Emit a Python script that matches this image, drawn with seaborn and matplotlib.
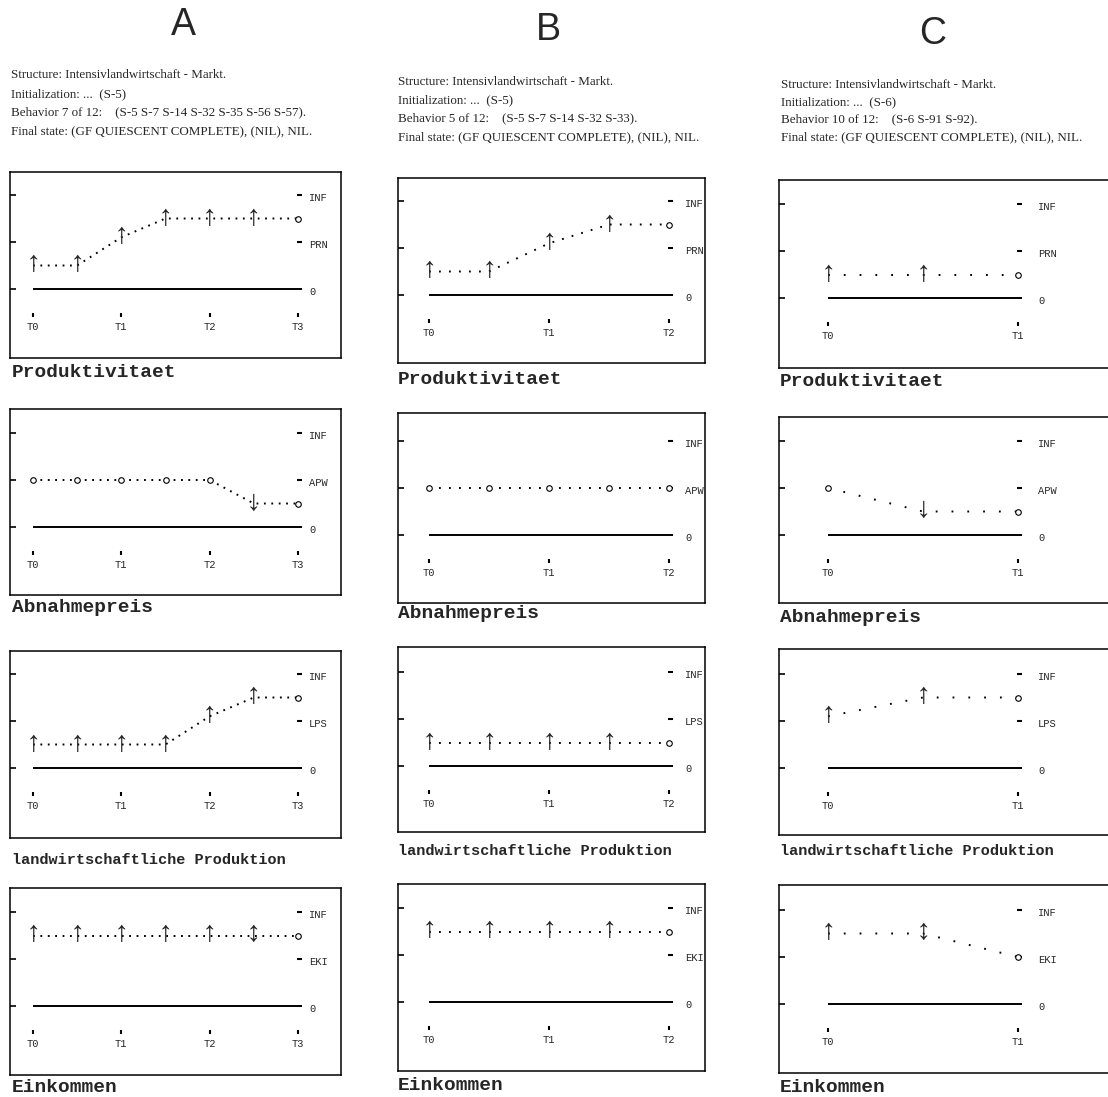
import matplotlib
matplotlib.use("Agg")
import matplotlib.pyplot as plt
import seaborn as sns

sns.set_style("white")
plt.rcParams["lines.scale_dashes"] = False

W, H = 1108, 1097
fig = plt.figure(figsize=(W / 100, H / 100), dpi=100)

# ---------------- data ----------------
columns = ["A", "B", "C"]
variables = ["Produktivitaet", "Abnahmepreis", "landwirtschaftliche Produktion", "Einkommen"]
landmarks = ["PRN", "APW", "LPS", "EKI"]

times_A = ["T0", "T1", "T2", "T3"]
times_B = ["T0", "T1", "T2"]
times_C = ["T0", "T1"]

header_A = ["Structure: Intensivlandwirtschaft - Markt.",
            "Initialization: ...  (S-5)",
            "Behavior 7 of 12:    (S-5 S-7 S-14 S-32 S-35 S-56 S-57).",
            "Final state: (GF QUIESCENT COMPLETE), (NIL), NIL."]
header_B = ["Structure: Intensivlandwirtschaft - Markt.",
            "Initialization: ...  (S-5)",
            "Behavior 5 of 12:    (S-5 S-7 S-14 S-32 S-33).",
            "Final state: (GF QUIESCENT COMPLETE), (NIL), NIL."]
header_C = ["Structure: Intensivlandwirtschaft - Markt.",
            "Initialization: ...  (S-6)",
            "Behavior 10 of 12:    (S-6 S-91 S-92).",
            "Final state: (GF QUIESCENT COMPLETE), (NIL), NIL."]

# qualitative magnitude at T0, (T0,T1), T1, ... : 0 = zero, 1 = landmark, 2 = INF
prn_A = [0.5, 0.5, 1.1, 1.5, 1.5, 1.5, 1.5]
apw_A = [1.0, 1.0, 1.0, 1.0, 1.0, 0.5, 0.5]
lps_A = [0.5, 0.5, 0.5, 0.5, 1.1, 1.5, 1.5]
eki_A = [1.5, 1.5, 1.5, 1.5, 1.5, 1.5, 1.5]
prn_A_dir = ["inc", "inc", "inc", "inc", "inc", "inc", "std"]
apw_A_dir = ["std", "std", "std", "std", "std", "dec", "std"]
lps_A_dir = ["inc", "inc", "inc", "inc", "inc", "inc", "std"]
eki_A_dir = ["inc", "inc", "inc", "inc", "inc", "ign", "std"]

prn_B = [0.5, 0.5, 1.1, 1.5, 1.5]
apw_B = [1.0, 1.0, 1.0, 1.0, 1.0]
lps_B = [0.5, 0.5, 0.5, 0.5, 0.5]
eki_B = [1.5, 1.5, 1.5, 1.5, 1.5]
prn_B_dir = ["inc", "inc", "inc", "inc", "std"]
apw_B_dir = ["std", "std", "std", "std", "std"]
lps_B_dir = ["inc", "inc", "inc", "inc", "std"]
eki_B_dir = ["inc", "inc", "inc", "inc", "std"]

prn_C = [0.5, 0.5, 0.5]
apw_C = [1.0, 0.5, 0.5]
lps_C = [1.1, 1.5, 1.5]
eki_C = [1.5, 1.5, 1.0]
prn_C_dir = ["inc", "inc", "std"]
apw_C_dir = ["std", "dec", "std"]
lps_C_dir = ["inc", "inc", "std"]
eki_C_dir = ["inc", "ign", "std"]

panel_values = {"A": [prn_A, apw_A, lps_A, eki_A],
                "B": [prn_B, apw_B, lps_B, eki_B],
                "C": [prn_C, apw_C, lps_C, eki_C]}
panel_dirs = {"A": [prn_A_dir, apw_A_dir, lps_A_dir, eki_A_dir],
              "B": [prn_B_dir, apw_B_dir, lps_B_dir, eki_B_dir],
              "C": [prn_C_dir, apw_C_dir, lps_C_dir, eki_C_dir]}
panel_times = {"A": times_A, "B": times_B, "C": times_C}
headers = {"A": header_A, "B": header_B, "C": header_C}

arrows = {"inc": "\u2191", "dec": "\u2193", "ign": "\u2195"}

# ---------------- layout (pixels) ----------------
LM = 47  # pixels between landmarks
# box left, box right, T0 x, Tlast x, label offset, dot spacing
col_geom = {"A": (10, 341, 33, 298, 11, 7.4),
            "B": (398, 705, 429, 669, 16, 10.0),
            "C": (779, 1110, 828, 1018, 20, 15.8)}
# box top, box bottom, zero line y
row_geom = {"A": [(172, 358, 289), (409, 595, 527), (651, 838, 768), (888, 1075, 1006)],
            "B": [(178, 363, 295), (413, 603, 535), (647, 832, 766), (884, 1071, 1002)],
            "C": [(180, 368, 298), (417, 603, 535), (649, 835, 768), (885, 1073, 1004)]}
title_pos = {"A": (12, [373, 608, 860, 1088]),
             "B": (398, [380, 614, 851, 1085]),
             "C": (780, [381, 618, 851, 1088])}
letter_pos = {"A": (183, 25), "B": (548, 30), "C": (933, 34)}
header_pos = {"A": (11, [75, 94, 112, 131]),
              "B": (398, [82, 100, 118, 137]),
              "C": (781, [85, 102, 119, 137])}

mono = ["Liberation Mono", "DejaVu Sans Mono"]
arrow_font = ["Liberation Mono", "DejaVu Sans"]

for col in columns:
    lx, ly = letter_pos[col]
    fig.text(lx / W, 1 - ly / H, col, fontsize=27, family="Liberation Sans",
             ha="center", va="center")
    hx, hys = header_pos[col]
    for line, hy in zip(headers[col], hys):
        fig.text(hx / W, 1 - hy / H, line, fontsize=9.4, family="Liberation Serif",
                 ha="left", va="center")

    left, right, t0, tl, lab_dx, gap = col_geom[col]
    times = panel_times[col]
    n = len(times) - 1
    ppt = (tl - t0) / n

    for row in range(4):
        top, bot, zero = row_geom[col][row]
        vals = panel_values[col][row]
        dirs = panel_dirs[col][row]

        ax = fig.add_axes([left / W, 1 - bot / H, (right - left) / W, (bot - top) / H])
        xs = [i * 0.5 for i in range(len(vals))]

        sns.lineplot(x=xs, y=vals, ax=ax, color="black", linewidth=1.4,
                     linestyle=(0, (1.3, gap * 0.72 - 1.3)), dash_capstyle="butt",
                     zorder=2)

        # markers
        for x, v, d in zip(xs, vals, dirs):
            if d == "std":
                ax.scatter([x], [v], s=16, facecolors="white", edgecolors="black",
                           linewidths=0.8, zorder=4)
            else:
                ax.text(x, v + 2 / LM, arrows[d], fontsize=21, family=arrow_font,
                        ha="center", va="center", zorder=3)

        # zero line, landmark dashes and labels
        ax.hlines(0, 0, n + 4 / ppt, color="black", linewidth=1.4)
        ax.hlines([1, 2], n - 1 / ppt, n + 4 / ppt, color="black", linewidth=1.5)
        for lev, name in zip([0, 1, 2], ["0", landmarks[row], "INF"]):
            ax.text(n + lab_dx / ppt, lev - 3 / LM, name, fontsize=7.5, family=mono,
                    ha="left", va="center")

        # time ticks
        ax.vlines(range(n + 1), -28 / LM, -24 / LM, color="black", linewidth=1.5)
        for i, lab in enumerate(times):
            ax.text(i, -38 / LM, lab, fontsize=7.5, family=mono, ha="center", va="center")

        ax.set_xlim(-(t0 - left) / ppt, n + (right - tl) / ppt)
        ax.set_ylim(-(bot - zero) / LM, (zero - top) / LM)
        ax.set_xticks([])
        ax.set_yticks([0, 1, 2])
        ax.tick_params(axis="y", direction="in", length=4, width=1.2, left=True,
                       labelleft=False, color="black")
        ax.set_xlabel("")
        ax.set_ylabel("")
        for sp in ax.spines.values():
            sp.set_color("black")
            sp.set_linewidth(1.1)
            sp.set_visible(True)

        tx, tys = title_pos[col]
        fs = 11 if row == 2 else 14
        fig.text(tx / W, 1 - tys[row] / H, variables[row], fontsize=fs, family=mono,
                 weight="bold", ha="left", va="center")

fig.savefig("out.png", dpi=100)
